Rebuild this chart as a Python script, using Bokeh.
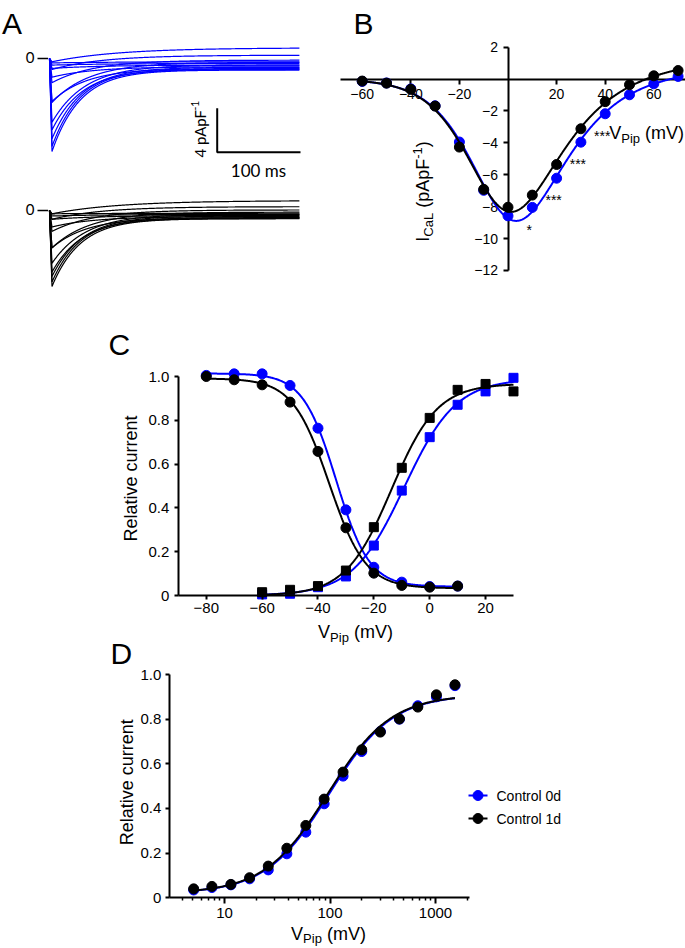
import numpy as np
from bokeh.plotting import figure
from bokeh.models import LinearAxis, FixedTicker, Range1d, LogScale, LinearScale
from bokeh.layouts import column, row
from bokeh.embed import file_html
from bokeh.resources import INLINE
from bokeh.core.properties import value

FONT = "Liberation Sans"
FONT_TRACE = "Lato"
BLUE = "#0000FF"
BLACK = "#000000"
SERIES = ["Control 0d", "Control 1d"]

# ---------------- Panel A: example current traces ----------------
TRACE_VOLTAGES = [-60, -50, -40, -30, -20, -10, 0, 10, 20, 30, 40, 50, 60, 70]
TRACE_PEAK_0D = [-0.4, -0.6, -0.9, -1.7, -3.9, -6.5, -8.45, -8.0, -7.3, -5.8, -4.0, -2.2, -1.0, -0.3]
TRACE_END_0D = [-0.3, -0.45, -0.6, -0.75, -0.9, -1.0, -1.05, -0.95, -0.8, -0.6, -0.35, -0.15, 0.3, 0.97]
TRACE_PEAK_1D = [-0.3, -0.5, -0.8, -1.5, -3.4, -5.6, -6.9, -6.5, -6.0, -4.8, -3.4, -1.9, -0.8, -0.3]
TRACE_END_1D = [-0.25, -0.35, -0.45, -0.55, -0.65, -0.72, -0.75, -0.65, -0.5, -0.35, -0.15, 0.05, 0.35, 0.9]
TRACE_TAU_MS = [80, 70, 60, 50, 42, 36, 34, 34, 36, 40, 45, 50, 60, 80]
TRACE_T_PEAK_MS = 3.0
TRACE_DURATION_MS = 300
SCALE_BAR_CURRENT = 4     # pA/pF
SCALE_BAR_TIME = 100      # ms

# ---------------- Panel B: I-V relation ----------------
IV_VOLTAGE = [-60, -50, -40, -30, -20, -10, 0, 10, 20, 30, 40, 50, 60, 70]
IV_0D = [-0.15, -0.25, -0.62, -1.68, -3.95, -6.98, -8.58, -8.05, -6.22, -3.96, -2.18, -0.99, -0.30, 0.16]
IV_1D = [-0.13, -0.26, -0.65, -1.70, -4.27, -6.92, -8.04, -7.28, -5.36, -3.12, -1.42, -0.36, 0.20, 0.53]
IV_SIG_VOLTAGE = [10, 20, 30, 40]
IV_SIG_TEXT = ["*", "***", "***", "***"]
RT_F = 25.7  # mV

# ---------------- Panel C: activation / inactivation ----------------
INACT_V = [-80, -70, -60, -50, -40, -30, -20, -10, 0, 10]
INACT_0D = [1.005, 1.012, 1.012, 0.959, 0.764, 0.391, 0.129, 0.061, 0.041, 0.043]
INACT_1D = [1.0, 0.985, 0.962, 0.883, 0.658, 0.309, 0.102, 0.046, 0.038, 0.043]
ACT_V = [-60, -50, -40, -30, -20, -10, 0, 10, 20, 30]
ACT_0D = [0.005, 0.008, 0.038, 0.087, 0.228, 0.479, 0.723, 0.871, 0.932, 0.994]
ACT_1D = [0.015, 0.026, 0.043, 0.114, 0.312, 0.583, 0.811, 0.939, 0.966, 0.932]

# ---------------- Panel D ----------------
DOSE_X = [5.1, 7.6, 11.5, 17.3, 26, 39, 59, 88, 133, 200, 300, 455, 680, 1020, 1530]
DOSE_0D = [0.035, 0.046, 0.058, 0.085, 0.125, 0.197, 0.294, 0.421, 0.545, 0.655, 0.745, 0.80, 0.86, 0.90, 0.95]
DOSE_1D = [0.040, 0.051, 0.060, 0.090, 0.142, 0.222, 0.324, 0.442, 0.563, 0.663, 0.742, 0.801, 0.854, 0.909, 0.954]
# Hill fit: bottom, top, EC50, Hill slope
DOSE_FIT_0D = [0.02, 0.91, 98.0, 1.45]
DOSE_FIT_1D = [0.02, 0.91, 95.0, 1.45]

# ---------------- helpers ----------------
ARIAL = {' ': .278, '(': .333, ')': .333, '-': .333, '*': .389, '.': .278,
         'A': .667, 'C': .722, 'F': .611, 'I': .278, 'L': .556, 'P': .667, 'V': .667, 'R': .722,
         'a': .556, 'c': .5, 'd': .556, 'e': .556, 'i': .222, 'l': .222, 'm': .833, 'n': .556,
         'o': .556, 'p': .556, 'r': .333, 's': .5, 't': .278, 'u': .556, 'v': .5}
LATO = {' ': .193, '-': .37, 'A': .68, 'F': .546, 'p': .566, 'm': .862, 's': .4}
MIDDLE_ABOVE_BASELINE = {FONT: 0.3465, FONT_TRACE: 0.387}


def text_width(s, size, table):
    return sum(table.get(c, 0.556 if table is ARIAL else 0.58) for c in s) * size


class Frame:
    """Maps page pixels to one data space (drawn into a Bokeh figure)."""

    def __init__(self, xpx, xval, xppu, ypx, yval, yppu, log_x=False):
        self.xpx, self.xval, self.xppu = xpx, xval, xppu
        self.ypx, self.yval, self.yppu = ypx, yval, yppu
        self.log_x = log_x
        self.rk = {}

    def x(self, px):
        u = self.xval + (px - self.xpx) / self.xppu
        return 10 ** u if self.log_x else u

    def y(self, py):
        return self.yval - (py - self.ypx) / self.yppu

    def px(self, x):
        u = np.log10(x) if self.log_x else x
        return self.xpx + (u - self.xval) * self.xppu

    def py(self, y):
        return self.ypx + (self.yval - y) * self.yppu

    def figure(self, left, top, width, height):
        p = figure(width=width, height=height,
                   x_range=Range1d(self.x(left), self.x(left + width)),
                   y_range=Range1d(self.y(top + height), self.y(top)),
                   x_axis_type=None, y_axis_type=None, toolbar_location=None,
                   output_backend="svg", min_border=0, outline_line_color=None)
        if self.log_x:
            p.x_scale = LogScale()
        p.background_fill_color = "white"
        p.border_fill_color = "white"
        self.p = p
        return p

    def attach(self, p, name, left, top, width, height):
        """Use extra ranges of an existing figure for this frame."""
        p.extra_x_ranges[name + "_x"] = Range1d(self.x(left), self.x(left + width))
        p.extra_y_ranges[name + "_y"] = Range1d(self.y(top + height), self.y(top))
        p.extra_x_scales[name + "_x"] = LogScale() if self.log_x else LinearScale()
        p.extra_y_scales[name + "_y"] = LinearScale()
        self.p = p
        self.rk = {"x_range_name": name + "_x", "y_range_name": name + "_y"}

    def line(self, xs, ys, **kw):
        return self.p.line(xs, ys, **kw, **self.rk)

    def scatter(self, xs, ys, **kw):
        return self.p.scatter(xs, ys, **kw, **self.rk)

    def multi_line(self, xs, ys, **kw):
        return self.p.multi_line(xs, ys, **kw, **self.rk)

    def axis(self, where, **kw):
        ax = LinearAxis(**kw, **self.rk)
        self.p.add_layout(ax, where)
        return ax

    def text(self, px, py, txt, size, font=FONT, align="left", angle=0.0, color=BLACK):
        # (px, py) is the page position of the text baseline
        m = MIDDLE_ABOVE_BASELINE[font] * size
        if angle == 0.0:
            ax_, ay_ = px, py - m
        else:
            ax_, ay_ = px - m, py
        return self.p.text(x=[self.x(ax_)], y=[self.y(ay_)], text=[txt],
                           text_font=value(font), text_font_size=f"{size}px",
                           text_align=align, text_baseline="middle", angle=angle,
                           text_color=color, **self.rk)

    def rich(self, px, py, segs, align="left", angle=0.0, font=FONT, table=ARIAL):
        total = sum(text_width(t, s, table) for t, s, _ in segs)
        a = {"left": 0.0, "center": -total / 2, "right": -total}[align]
        for t, s, d in segs:
            stripped = t.lstrip()
            lead = text_width(t[:len(t) - len(stripped)], s, table)
            aa = a + lead
            if angle == 0.0:
                X, Y = px + aa, py + d
            else:
                X, Y = px + d, py - aa
            self.text(X, Y, stripped, s, font=font, angle=angle)
            a += text_width(t, s, table)


def style_axis(ax, size, standoff=4, tick=5):
    ax.axis_line_width = 2
    ax.axis_line_color = BLACK
    ax.major_tick_line_width = 2
    ax.major_tick_line_color = BLACK
    ax.major_tick_in = 0
    ax.major_tick_out = tick
    ax.minor_tick_in = 0
    ax.minor_tick_out = 0
    ax.major_label_text_font = FONT
    ax.major_label_text_font_size = f"{size}px"
    ax.major_label_text_color = BLACK
    ax.major_label_standoff = standoff


def grid_fit(x, y, basis, grids, intercept=True):
    x = np.asarray(x, float)
    y = np.asarray(y, float)
    mesh = np.meshgrid(*[np.asarray(g, float) for g in grids], indexing="ij")
    params = [m.ravel()[:, None] for m in mesh]
    with np.errstate(all="ignore"):
        S = basis(x[None, :], *params)
        if intercept:
            sm = S.mean(axis=1, keepdims=True)
            ym = y.mean()
            b = ((S - sm) * (y - ym)).sum(1, keepdims=True) / ((S - sm) ** 2).sum(1, keepdims=True)
            a = ym - b * sm
        else:
            b = (S * y).sum(1, keepdims=True) / (S * S).sum(1, keepdims=True)
            a = np.zeros_like(b)
        sse = ((a + b * S - y) ** 2).sum(1)
    sse = np.where(np.isfinite(sse), sse, np.inf)
    i = int(np.argmin(sse))
    best = [p[i, 0] for p in params]
    A, B = a[i, 0], b[i, 0]

    def curve(xx):
        with np.errstate(all="ignore"):
            return A + B * basis(np.asarray(xx, float), *best)
    return curve


def boltz_up(v, vh, k):
    return 1.0 / (1.0 + np.exp((vh - v) / k))


def boltz_down(v, vh, k):
    return 1.0 / (1.0 + np.exp((v - vh) / k))


def ghk_act(v, e_rev, vh, k):
    u = 2.0 * v / RT_F
    small = np.abs(u) < 1e-9
    u_safe = np.where(small, 1.0, u)
    drive = np.where(small, RT_F / 2.0, v / (1.0 - np.exp(-u_safe)))
    return drive * (1.0 - np.exp(2.0 * (e_rev - v) / RT_F)) / (1.0 + np.exp((vh - v) / k))


def hill(x, bottom, top, ec50, slope):
    x = np.asarray(x, float)
    return bottom + (top - bottom) / (1.0 + (ec50 / x) ** slope)


# ================= Panel A =================
fa = Frame(xpx=49, xval=0, xppu=0.833, ypx=58, yval=0, yppu=11)
pa = fa.figure(0, 0, 318, 310)
t = np.linspace(0, TRACE_DURATION_MS, 1201)
black_offset = fa.y(210)


def trace(peak, end, tau):
    return np.where(t < TRACE_T_PEAK_MS, peak * t / TRACE_T_PEAK_MS,
                    end + (peak - end) * np.exp(-(t - TRACE_T_PEAK_MS) / tau))


xs0, ys0, xs1, ys1 = [], [], [], []
for pk0, e0, pk1, e1, tau in zip(TRACE_PEAK_0D, TRACE_END_0D, TRACE_PEAK_1D, TRACE_END_1D, TRACE_TAU_MS):
    xs0.append(t)
    ys0.append(trace(pk0, e0, tau))
    xs1.append(t)
    ys1.append(trace(pk1, e1, tau) + black_offset)
fa.multi_line(xs0, ys0, line_color=BLUE, line_width=1.2)
fa.multi_line(xs1, ys1, line_color=BLACK, line_width=1.2)
for zy in [0.0, black_offset]:
    fa.line([fa.x(37), fa.x(47.5)], [zy, zy], line_color=BLACK, line_width=1.5)
    fa.text(34, fa.py(zy) + 5.3, "0", 15, font=FONT_TRACE, align="right")
sb_x0, sb_y0 = fa.x(216.7), fa.y(151.7)
fa.line([sb_x0, sb_x0, sb_x0 + SCALE_BAR_TIME], [sb_y0 + SCALE_BAR_CURRENT, sb_y0, sb_y0],
        line_color=BLACK, line_width=2)
fa.rich(205, 157, [("4 pApF", 15, 0), ("-1", 10.5, -6.5)], angle=np.pi / 2, font=FONT_TRACE, table=LATO)
fa.text(258, 176.5, "100 ms", 17, font=FONT_TRACE, align="center")
fa.text(1.5, 33, "A", 30)

# ================= Panel B =================
fb = Frame(xpx=507.5, xval=0, xppu=2.43, ypx=78.5, yval=0, yppu=15.95)
pb = fb.figure(318, 0, 367, 310)
v_fine = np.linspace(-60, 70, 521)
ghk_grid = [np.arange(40, 101, 1.0), np.arange(-25, 10.01, 0.5), np.arange(3, 12.01, 0.2)]
iv_fit0 = grid_fit(IV_VOLTAGE, IV_0D, ghk_act, ghk_grid, intercept=False)
iv_fit1 = grid_fit(IV_VOLTAGE, IV_1D, ghk_act, ghk_grid, intercept=False)
rs = []
rs.append(fb.line(v_fine, iv_fit0(v_fine), line_color=BLUE, line_width=2))
rs.append(fb.scatter(IV_VOLTAGE, IV_0D, marker="circle", size=10, fill_color=BLUE, line_color=BLUE))
rs.append(fb.line(v_fine, iv_fit1(v_fine), line_color=BLACK, line_width=2))
rs.append(fb.scatter(IV_VOLTAGE, IV_1D, marker="circle", size=10, fill_color=BLACK, line_color=BLACK))
for r in rs:
    r.level = "annotation"
for v, s in zip(IV_SIG_VOLTAGE, IV_SIG_TEXT):
    yb = IV_0D[IV_VOLTAGE.index(v)]
    fb.text(fb.px(v) - 3, fb.py(yb) + 27, s, 14, align="center")
bx = fb.axis("below", fixed_location=0, bounds=(-69, fb.x(685)),
             ticker=FixedTicker(ticks=[-60, -40, -20, 20, 40, 60]))
style_axis(bx, 14, standoff=5)
by = fb.axis("left", fixed_location=0, bounds=(-12, 2),
             ticker=FixedTicker(ticks=[2, -2, -4, -6, -8, -10, -12]))
style_axis(by, 14, standoff=5)
fb.rich(429, 191, [("I", 18, 0), ("CaL", 13, 4), (" (pApF", 18, 0), ("-1", 13, -7), (")", 18, 0)],
        align="center", angle=np.pi / 2)
fb.rich(683.5, 138.5, [("V", 18, 0), ("Pip", 13, 4), (" (mV)", 18, 0)], align="right")
fb.text(353, 33, "B", 30)

# ================= Panels C and D (one canvas) =================
fc = Frame(xpx=429.2, xval=0, xppu=2.793, ypx=595, yval=0, yppu=219)
pcd = fc.figure(0, 310, 685, 638)
fd = Frame(xpx=224, xval=1, xppu=105.5, ypx=897.3, yval=0, yppu=223.3, log_x=True)
fd.attach(pcd, "d", 0, 310, 685, 638)

# ---- C ----
bz_grid = [np.arange(-60, 10.01, 0.1), np.arange(2, 15.01, 0.05)]
inact_v = np.linspace(-80, 10, 361)
act_v = np.linspace(-60, 30, 361)
for inact, act, col in [(INACT_0D, ACT_0D, BLUE), (INACT_1D, ACT_1D, BLACK)]:
    fi = grid_fit(INACT_V, inact, boltz_down, bz_grid, intercept=True)
    fa_ = grid_fit(ACT_V, act, boltz_up, bz_grid, intercept=False)
    fc.line(inact_v, fi(inact_v), line_color=col, line_width=2)
    fc.line(act_v, fa_(act_v), line_color=col, line_width=2)
    fc.scatter(INACT_V, inact, marker="circle", size=10, fill_color=col, line_color=col)
    fc.scatter(ACT_V, act, marker="square", size=9, fill_color=col, line_color=col)
cx = fc.axis("below", fixed_location=0, bounds=(-90, 30),
             ticker=FixedTicker(ticks=[-80, -60, -40, -20, 0, 20]))
style_axis(cx, 15, standoff=3, tick=4)
cy = fc.axis("left", fixed_location=-90, bounds=(0, 1),
             ticker=FixedTicker(ticks=[0, 0.2, 0.4, 0.6, 0.8, 1.0]),
             major_label_overrides={0: "0", 1: "1.0"})
style_axis(cy, 15, standoff=5, tick=4)
fc.rich(137, 478, [("Relative current", 18, 0)], align="center", angle=np.pi / 2)
fc.rich(355, 638, [("V", 18, 0), ("Pip", 13, 4), (" (mV)", 18, 0)], align="center")
fc.text(108, 354, "C", 30)

# ---- D ----
d_fine = np.logspace(np.log10(DOSE_X[0]), np.log10(DOSE_X[-1]), 300)
legend_y = [795, 818]
for vals, params, col in [(DOSE_0D, DOSE_FIT_0D, BLUE), (DOSE_1D, DOSE_FIT_1D, BLACK)]:
    fd.line(d_fine, hill(d_fine, *params), line_color=col, line_width=2)
    fd.scatter(DOSE_X, vals, marker="circle", size=10, fill_color=col, line_color=col)
for i, col in enumerate([BLUE, BLACK]):
    ly = fd.y(legend_y[i])
    fd.line([fd.x(468), fd.x(487)], [ly, ly], line_color=col, line_width=2)
    fd.scatter([fd.x(477.5)], [ly], marker="circle", size=10, fill_color=col, line_color=col)
    fd.text(496, legend_y[i] + 5, SERIES[i], 14)
dx = fd.axis("below", fixed_location=0, bounds=(3, 2100),
             ticker=FixedTicker(ticks=[10, 100, 1000],
                                minor_ticks=[4, 5, 6, 7, 8, 9, 20, 30, 40, 50, 60, 70, 80, 90,
                                             200, 300, 400, 500, 600, 700, 800, 900, 2000]))
style_axis(dx, 15, standoff=4, tick=6)
dx.minor_tick_out = 3
dx.minor_tick_line_width = 1.5
dx.minor_tick_line_color = BLACK
dy = fd.axis("left", fixed_location=3, bounds=(0, 1),
             ticker=FixedTicker(ticks=[0, 0.2, 0.4, 0.6, 0.8, 1.0]),
             major_label_overrides={0: "0", 1: "1.0"})
style_axis(dy, 15, standoff=4, tick=4)
fd.rich(133, 781.7, [("Relative current", 18, 0)], align="center", angle=np.pi / 2)
fd.rich(328, 939.5, [("V", 18, 0), ("Pip", 13, 3.5), (" (mV)", 18, 0)], align="center")
fd.text(110, 663, "D", 30)

layout = column(row(pa, pb), pcd)
open("out.html", "w").write(file_html(layout, INLINE, title="ICaL figure"))
